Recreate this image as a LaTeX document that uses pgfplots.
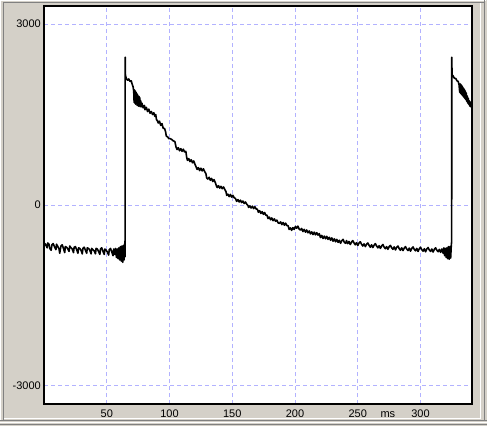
\documentclass[border=0pt]{standalone}
\usepackage{pgfplots}
\pgfplotsset{compat=1.18}
\usepackage{fontspec}
\setmainfont{Liberation Sans}
\definecolor{bgc}{RGB}{212,208,200}
\definecolor{darkc}{RGB}{128,128,128}
\definecolor{gridc}{RGB}{178,178,255}
\begin{document}
\begin{tikzpicture}[x=1pt,y=1pt]
\useasboundingbox (0,0) rectangle (487,426);
\fill[bgc] (0,0) rectangle (487,426);
% window bevels
\draw[white,line width=1pt] (0.5,426) -- (0.5,5);
\draw[white,line width=1pt] (0,425.5) -- (486,425.5);
\draw[darkc,line width=1.5pt] (3.5,424) -- (3.5,5);
\draw[darkc,line width=1.5pt] (3,423.5) -- (484,423.5);
\draw[white,line width=1pt] (480.5,423) -- (480.5,7);
\draw[white,line width=1pt] (4,7.5) -- (481,7.5);
\draw[darkc,line width=1.5pt] (484.5,426) -- (484.5,5);
\draw[darkc,line width=1.5pt] (0,5.5) -- (487,5.5);
\draw[white,line width=1pt] (0,3.5) -- (487,3.5);
\draw[darkc,line width=1pt] (0,1.5) -- (487,1.5);
\begin{axis}[
  at={(44pt,22pt)}, anchor=south west,
  width=428pt, height=398pt, scale only axis,
  xmin=0, xmax=341, ymin=-3300, ymax=3300,
  xtick={50,100,150,200,250,300},
  xticklabels={50,100,150,200,250,300},
  ytick={-3000,0,3000},
  yticklabels={-3000,0,3000},
  major tick length=0pt,
  grid=major,
  major grid style={gridc, line width=1pt, dash pattern=on 4pt off 3pt},
  axis line style={black, line width=1.6pt},
  axis background/.style={fill=white},
  tick label style={font=\fontsize{11}{12}\selectfont, black},
  xticklabel style={anchor=base, yshift=-13pt},
  yticklabel style={anchor=east, inner sep=0pt, xshift=-3pt},
  clip mode=individual,
]
\addplot[black, line width=1.6pt, line join=round, mark=none] coordinates {
(0,-690) (0.7,-640) (1.5,-660) (2.5,-710) (3,-630) (4,-650) (4.6,-720) (5.7,-750) (6.3,-660) (7.3,-640) (8.5,-700) (9.5,-740) (10,-650) (11,-690) (12,-730) (12.5,-800) (13.5,-680) (14.5,-660) (15.5,-720) (16.5,-790) (17,-690) (18,-700) (19,-730) (20,-770) (20.5,-680) (21.5,-710) (22.5,-730) (23.5,-790) (24,-700) (25,-690) (26,-740) (27,-800) (27.6,-710) (28.5,-720) (29.5,-750) (30.5,-810) (31,-720) (32,-700) (33,-750) (34,-800) (34.5,-710) (35.5,-720) (36.5,-750) (37.5,-810) (38,-720) (39,-740) (40,-760) (41,-810) (41.5,-720) (42.5,-730) (43.5,-770) (44.5,-820) (45,-730) (46,-710) (47,-770) (48,-820) (48.5,-730) (49.5,-750) (50.5,-780) (51.5,-830) (52,-740) (53,-720) (54,-780) (55,-840) (55.5,-730) (56.3,-820) (57,-720) (57.7,-870) (58.3,-730) (59,-890) (59.6,-710) (60.3,-910) (60.9,-690) (61.5,-930) (62.1,-680) (62.7,-950) (63.3,-670) (63.8,-910) (64.2,-640) (64.5,-860) (64.6,-500) (64.7,2450) (64.9,2150)
(65.5,2100) (66.5,2070) (67.5,2090) (68.5,2050) (69.5,2060) (70.3,2000) (71,1960) (71.5,1880) (71.8,1700) (72.1,1910) (72.4,1690) (72.7,1890) (73,1670) (73.3,1870) (73.6,1680) (73.9,1850) (74.2,1650) (74.5,1830) (74.8,1660) (75.1,1810) (75.4,1640) (75.7,1800) (76,1650) (76.3,1780) (76.6,1630) (77,1730) (77.5,1630) (78,1690) (79,1610) (80,1650) (80.5,1580) (81.5,1620) (82.5,1550) (83.5,1590) (84.5,1520) (85.5,1550) (86.5,1500) (87.5,1530) (88.3,1470) (89,1500) (89.7,1410) (90.3,1400) (91,1360) (92,1390) (93,1320) (94,1350) (95,1270) (96,1270) (96.8,1220) (97.5,1140) (98.5,1130) (99.5,1100) (100.5,1100) (101.5,1090) (102.5,1070) (103.5,1060) (104.3,1050) (105.2,960) (106,920) (107,950) (108,900) (109,935) (110,890) (111,925) (112,880) (113,890) (113.7,790) (114.3,740) (115.3,770) (116.3,720) (117.3,750) (118.3,700) (119.3,730) (120.2,680) (121,640) (122,590) (123,620) (124,570) (125,610) (126,565) (127,600) (128,555) (129,520) (129.6,450) (130.5,430) (131.5,460) (132.5,410) (133.5,440) (134.5,390) (135.5,420) (136.5,370) (137.3,320) (138,290) (139,320) (140,280) (141,310) (142,270) (143,300) (144,260) (145,220) (145.6,160) (146.5,180) (147.5,140) (148.5,175) (149.5,130) (150.5,160) (151.5,120) (152.5,110) (153.5,60) (154.5,90) (155.5,50) (156.5,80) (157.5,40) (158.5,65) (159.5,25) (160.5,50) (161.5,15) (162.5,-10) (163,-40) (164,-15) (165,-50) (166,-20) (167,-60) (168,-30) (169,-65) (170,-70) (170.8,-120) (171.8,-95) (172.8,-140) (173.8,-110) (174.8,-155) (175.8,-125) (176.8,-170) (177.7,-170) (178.5,-225) (179.5,-200) (180.5,-245) (181.5,-215) (182.5,-260) (183.5,-230) (184.5,-270) (185.5,-250) (186.5,-295) (187.5,-305) (188.5,-280) (189.5,-325) (190.5,-290) (191.5,-335) (192.5,-300) (193.5,-340) (194.5,-345) (195.3,-405) (196.3,-380) (197.3,-420) (198.3,-375) (199.3,-405) (200.3,-355) (201.3,-385) (202.3,-350) (203.3,-400) (204.3,-415) (205.3,-390) (206.3,-440) (207.3,-405) (208.3,-450) (209.3,-415) (210.3,-460) (211.3,-430) (212.3,-480) (213.3,-445) (214.3,-490) (215.3,-450) (216.3,-495) (217.3,-460) (218.3,-500) (219.3,-475) (220.3,-540) (221.3,-505) (222.3,-555) (223.3,-515) (224.3,-560) (225.3,-520) (226.3,-570) (227.3,-535) (228.3,-585) (229.3,-545) (230.3,-600) (231.3,-560) (232.3,-610) (233.3,-570) (234.3,-620) (235.3,-585) (236.3,-635) (237.3,-590) (238.3,-570) (239.3,-620) (240.3,-635)
(241,-590) (242,-640) (243,-605) (244,-655) (245,-615) (246,-590) (247,-630) (248,-660) (249,-625) (250,-670) (251,-630) (252,-610) (253,-650) (254,-680) (255,-645) (256,-690) (257,-650) (258,-630) (259,-670) (260,-700) (261,-660) (262,-705) (263,-665) (264,-640) (265,-680) (266,-710) (267,-675) (268,-720) (269,-680) (270,-655) (271,-700) (272,-725) (273,-690) (274,-735) (275,-690) (276,-670) (277,-710) (278,-735) (279,-695) (280,-745) (281,-700) (282,-680) (283,-725) (284,-750) (285,-710) (286,-755) (287,-715) (288,-690) (289,-730) (290,-755) (291,-715) (292,-765) (293,-720) (294,-695) (295,-735) (296,-760) (297,-720) (298,-770) (299,-725) (300,-700) (301,-740) (302,-765) (303,-725) (304,-775) (305,-730) (306,-705) (307,-745) (308,-770) (309,-730) (310,-780) (311,-735) (312,-710) (313,-750) (314,-775) (315,-735) (316,-785) (317,-730) (318,-800) (318.6,-710) (319.2,-840) (319.8,-720) (320.4,-870) (321,-710) (321.6,-890) (322.2,-690) (322.8,-900) (323.4,-690) (324,-880) (324.5,-670) (324.8,-600) (324.9,2450) (325.1,2160)
(326,2140) (327,2100) (328,2100) (329,2060) (330,2050) (330.7,1990) (331.2,1870) (331.6,2010) (332,1850) (332.4,1990) (332.8,1830) (333.2,1970) (333.6,1810) (334,1940) (334.4,1790) (334.8,1920) (335.2,1770) (335.6,1890) (336,1750) (336.4,1860) (336.8,1720) (337.2,1810) (337.6,1690) (338,1770) (338.4,1670) (338.8,1730) (339.2,1640) (339.6,1710) (340,1630) (340.5,1670) (341,1610)
};
\node[anchor=base, font=\fontsize{11}{12}\selectfont, inner sep=0pt] at (axis cs:274,-3300) [yshift=-13.5pt] {ms};
\end{axis}
\end{tikzpicture}
\end{document}
